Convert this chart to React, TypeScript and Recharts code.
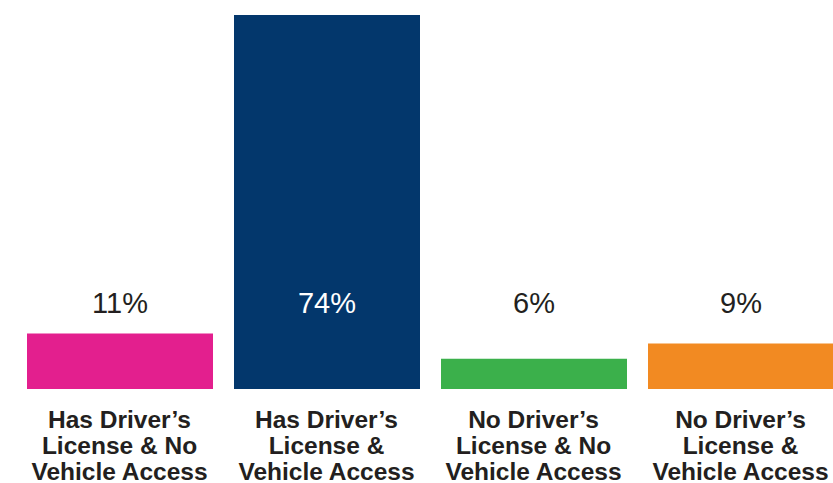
import { Bar, BarChart, Cell, LabelList, XAxis, YAxis } from "recharts";

const categories = [
  "Has Driver’s License & No Vehicle Access",
  "Has Driver’s License & Vehicle Access",
  "No Driver’s License & No Vehicle Access",
  "No Driver’s License & Vehicle Access",
];
const tickLines = [
  ["Has Driver’s", "License & No", "Vehicle Access"],
  ["Has Driver’s", "License &", "Vehicle Access"],
  ["No Driver’s", "License & No", "Vehicle Access"],
  ["No Driver’s", "License &", "Vehicle Access"],
];
const values = [11, 74, 6, 9];
const colors = ["#e31f8e", "#03376c", "#3bb04b", "#f28a22"];
const labelColors = ["#231f20", "#ffffff", "#231f20", "#231f20"];

const chartData = categories.map((name, i) => ({ name, value: values[i] }));

const FONT = "'Liberation Sans', Arial, Helvetica, sans-serif";

const CategoryTick = (props: any) => {
  const { x, y, index } = props;
  const lines = tickLines[index] || [];
  return (
    <text
      x={x}
      y={y}
      textAnchor="middle"
      fill="#231f20"
      fontFamily={FONT}
      fontWeight={700}
      fontSize={24.5}
    >
      {lines.map((line, i) => (
        <tspan key={i} x={x} dy={i === 0 ? 39 : 26}>
          {line}
        </tspan>
      ))}
    </text>
  );
};

const ValueLabel = (props: any) => {
  const { x, y, width, height, index } = props;
  const bottom = y + height;
  return (
    <text
      x={x + width / 2}
      y={bottom - 76}
      textAnchor="middle"
      fill={labelColors[index]}
      fontFamily={FONT}
      fontSize={29}
    >
      {values[index]}%
    </text>
  );
};

export default function App() {
  return (
    <div
      style={{
        position: "absolute",
        left: 0,
        top: 0,
        width: 833,
        height: 483,
        overflow: "hidden",
        background: "#ffffff",
      }}
    >
      <BarChart
        width={850}
        height={483}
        data={chartData}
        margin={{ top: 15, right: 6, left: 16, bottom: 0 }}
        barSize={186}
      >
        <XAxis
          dataKey="name"
          axisLine={false}
          tickLine={false}
          tickSize={0}
          tickMargin={0}
          height={94}
          interval={0}
          tick={<CategoryTick />}
        />
        <YAxis hide domain={[0, 74]} />
        <Bar dataKey="value" isAnimationActive={false}>
          {chartData.map((entry, index) => (
            <Cell key={`cell-${index}`} fill={colors[index]} />
          ))}
          <LabelList dataKey="value" content={<ValueLabel />} />
        </Bar>
      </BarChart>
    </div>
  );
}
